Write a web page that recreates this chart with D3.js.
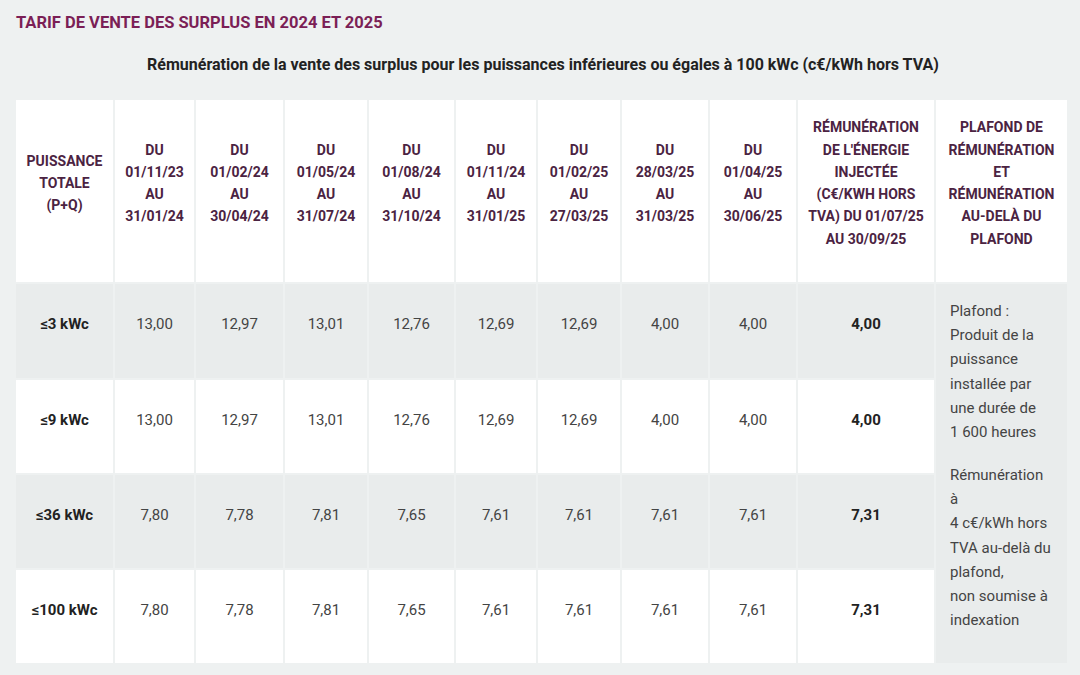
<!DOCTYPE html>
<html><head><meta charset="utf-8">
<script src="https://cdn.jsdelivr.net/npm/d3@7"></script>
<style>body{margin:0;background:#eef1f1;}svg{display:block}</style>
</head><body><svg id="c" width="1080" height="675"></svg>
<script>
const title = "TARIF DE VENTE DES SURPLUS EN 2024 ET 2025";
const subtitle = "Rémunération de la vente des surplus pour les puissances inférieures ou égales à 100 kWc (c€/kWh hors TVA)";
const headers = [
  ["PUISSANCE","TOTALE","(P+Q)"],
  ["DU","01/11/23","AU","31/01/24"],
  ["DU","01/02/24","AU","30/04/24"],
  ["DU","01/05/24","AU","31/07/24"],
  ["DU","01/08/24","AU","31/10/24"],
  ["DU","01/11/24","AU","31/01/25"],
  ["DU","01/02/25","AU","27/03/25"],
  ["DU","28/03/25","AU","31/03/25"],
  ["DU","01/04/25","AU","30/06/25"],
  ["RÉMUNÉRATION","DE L'ÉNERGIE","INJECTÉE","(C€/KWH HORS","TVA) DU 01/07/25","AU 30/09/25"],
  ["PLAFOND DE","RÉMUNÉRATION","ET","RÉMUNÉRATION","AU-DELÀ DU","PLAFOND"]
];
const categories = ["≤3 kWc","≤9 kWc","≤36 kWc","≤100 kWc"];
const values = [
  ["13,00","12,97","13,01","12,76","12,69","12,69","4,00","4,00","4,00"],
  ["13,00","12,97","13,01","12,76","12,69","12,69","4,00","4,00","4,00"],
  ["7,80","7,78","7,81","7,65","7,61","7,61","7,61","7,61","7,31"],
  ["7,80","7,78","7,81","7,65","7,61","7,61","7,61","7,61","7,31"]
];
const noteLines1 = ["Plafond :","Produit de la","puissance","installée par","une durée de","1 600 heures"];
const noteLines2 = ["Rémunération","à","4 c€/kWh hors","TVA au-delà du","plafond,","non soumise à","indexation"];

const colEdges = [16,115,196,285,369,456,538,622,710,798,936,1069];
const rowEdges = [100,284,380,475,570,665];
const gap = 2;
const font = "'Roboto','Noto Sans',sans-serif";
const purple = "#4b2342";
const svg = d3.select("#c");

svg.append("text").attr("x",16).attr("y",28).attr("fill","#7b1f56")
  .attr("font-family",font).attr("font-weight","bold").attr("font-size",16.5).text(title);
svg.append("text").attr("x",543).attr("y",70).attr("text-anchor","middle").attr("fill","#222")
  .attr("font-family",font).attr("font-weight","bold").attr("font-size",16).text(subtitle);

const xCol = i => colEdges[i], wCol = i => colEdges[i+1]-colEdges[i]-gap;
const yRow = i => rowEdges[i], hRow = i => rowEdges[i+1]-rowEdges[i]-gap;
const rowFill = r => r===0 ? "#ffffff" : (r%2===1 ? "#e9ecec" : "#ffffff");

headers.forEach((lines,c)=>{
  svg.append("rect").attr("x",xCol(c)).attr("y",yRow(0)).attr("width",wCol(c)).attr("height",hRow(0)).attr("fill","#fff");
  const cx = xCol(c)+wCol(c)/2, cy = yRow(0)+hRow(0)/2, lh = 22.3;
  svg.append("g").selectAll("text").data(lines).join("text")
    .attr("x",cx).attr("y",(d,i)=>cy+(i-(lines.length-1)/2)*lh-3)
    .attr("text-anchor","middle").attr("fill",purple).attr("font-family",font)
    .attr("font-weight","bold").attr("font-size",14).text(d=>d);
});
categories.forEach((cat,r)=>{
  const row = r+1;
  const cy = yRow(row)+hRow(row)/2-2;
  for(let c=0;c<10;c++){
    svg.append("rect").attr("x",xCol(c)).attr("y",yRow(row)).attr("width",wCol(c)).attr("height",hRow(row)).attr("fill",rowFill(row));
  }
  svg.append("text").attr("x",xCol(0)+wCol(0)/2).attr("y",cy).attr("text-anchor","middle")
    .attr("font-family",font).attr("font-weight","bold").attr("font-size",15).attr("fill","#222").text(cat);
  values[r].forEach((v,j)=>{
    const c=j+1;
    svg.append("text").attr("x",xCol(c)+wCol(c)/2).attr("y",cy).attr("text-anchor","middle")
      .attr("font-family",font).attr("font-size",15).attr("font-weight",c===9?"bold":"normal")
      .attr("fill",c===9?"#222":"#444").text(v);
  });
});
svg.append("rect").attr("x",xCol(10)).attr("y",yRow(1)).attr("width",wCol(10)).attr("height",rowEdges[5]-rowEdges[1]-gap).attr("fill","#e9ecec");
const nx = 950;
svg.append("g").selectAll("text").data(noteLines1).join("text").attr("x",nx).attr("y",(d,i)=>316+i*24.2)
  .attr("font-family",font).attr("font-size",15).attr("fill","#444").text(d=>d);
svg.append("g").selectAll("text").data(noteLines2).join("text").attr("x",nx).attr("y",(d,i)=>480+i*24.2)
  .attr("font-family",font).attr("font-size",15).attr("fill","#444").text(d=>d);
</script></body></html>
